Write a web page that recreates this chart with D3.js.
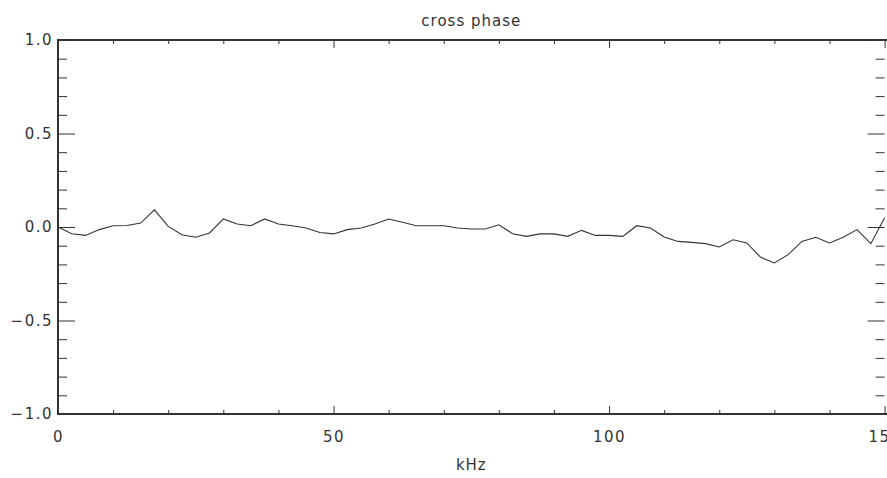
<!DOCTYPE html>
<html>
<head>
<meta charset="utf-8">
<script src="https://cdn.jsdelivr.net/npm/d3@7"></script>
<style>
  html, body { margin: 0; padding: 0; background: #fff; overflow: hidden; }
  svg { display: block; }
  text { font-family: "DejaVu Sans", sans-serif; fill: #333; }
</style>
</head>
<body>
<div id="chart"></div>
<script>
// cross phase vs frequency, sampled every 2.5 kHz
const freqKHz = d3.range(0, 150.01, 2.5);
const phase = [
  0.000, -0.036, -0.045, -0.014, 0.007, 0.008, 0.021, 0.092, 0.003, -0.041,
  -0.055, -0.032, 0.043, 0.016, 0.007, 0.043, 0.016, 0.007, -0.005, -0.029,
  -0.037, -0.014, -0.005, 0.016, 0.043, 0.025, 0.007, 0.007, 0.007, -0.005,
  -0.011, -0.011, 0.012, -0.036, -0.050, -0.037, -0.037, -0.050, -0.018, -0.045,
  -0.045, -0.050, 0.007, -0.005, -0.053, -0.077, -0.082, -0.089, -0.107, -0.068,
  -0.085, -0.162, -0.192, -0.148, -0.077, -0.055, -0.085, -0.055, -0.014, -0.089,
  0.050
];
const xMajorTicks = [0, 50, 100, 150];
const xMinorTicks = [10, 20, 30, 40, 60, 70, 80, 90, 110, 120, 130, 140];
const yMajorTicks = [-1.0, -0.5, 0.0, 0.5, 1.0];
const yMinorTicks = [-0.9, -0.8, -0.7, -0.6, -0.4, -0.3, -0.2, -0.1, 0.1, 0.2, 0.3, 0.4, 0.6, 0.7, 0.8, 0.9];

const width = 887, height = 478;
const margin = { top: 40, right: 2.4, bottom: 64, left: 58 };
const innerW = width - margin.left - margin.right;
const innerH = height - margin.top - margin.bottom;
const ink = '#333';

const svg = d3.select('#chart').append('svg')
  .attr('width', width)
  .attr('height', height);

const g = svg.append('g')
  .attr('transform', `translate(${margin.left},${margin.top})`);

const x = d3.scaleLinear().domain([0, 150]).range([0, innerW]);
const y = d3.scaleLinear().domain([-1, 1]).range([innerH, 0]);

function styleAxis(sel) {
  sel.select('.domain').remove();
  sel.selectAll('.tick line').attr('stroke', ink).attr('stroke-width', 1);
}

// frame: top, bottom, left (right edge runs off the picture)
g.append('path')
  .attr('d', `M${width - margin.left},0H0V${innerH}H${width - margin.left}`)
  .attr('fill', 'none')
  .attr('stroke', ink)
  .attr('stroke-width', 1.2)
  .attr('shape-rendering', 'crispEdges');

// bottom axis
g.append('g')
  .attr('transform', `translate(0,${innerH})`)
  .call(d3.axisTop(x).tickValues(xMajorTicks).tickSize(8).tickFormat(d3.format('d')))
  .call(styleAxis)
  .call(s => s.selectAll('.tick text')
    .attr('y', 23).attr('dy', '0.35em')
    .attr('font-size', 15).attr('letter-spacing', 1.5)
    .style('font-family', '"DejaVu Sans", sans-serif').attr('fill', ink));
g.append('g')
  .attr('transform', `translate(0,${innerH})`)
  .call(d3.axisTop(x).tickValues(xMinorTicks).tickSize(4).tickFormat(''))
  .call(styleAxis);

// top axis
g.append('g')
  .call(d3.axisBottom(x).tickValues(xMajorTicks).tickSize(8).tickFormat(''))
  .call(styleAxis);
g.append('g')
  .call(d3.axisBottom(x).tickValues(xMinorTicks).tickSize(4).tickFormat(''))
  .call(styleAxis);

// left axis
g.append('g')
  .call(d3.axisRight(y).tickValues(yMajorTicks).tickSize(17).tickFormat(d3.format('.1f')))
  .call(styleAxis)
  .call(s => s.selectAll('.tick text')
    .attr('x', -5).attr('text-anchor', 'end')
    .attr('font-size', 15).attr('letter-spacing', 1.5)
    .style('font-family', '"DejaVu Sans", sans-serif').attr('fill', ink)
    .text(d => d3.format('.1f')(d).replace('-', '\u2212')));
g.append('g')
  .call(d3.axisRight(y).tickValues(yMinorTicks).tickSize(9).tickFormat(''))
  .call(styleAxis);

// right axis ticks
g.append('g')
  .attr('transform', `translate(${innerW},0)`)
  .call(d3.axisLeft(y).tickValues(yMajorTicks).tickSize(17).tickFormat(''))
  .call(styleAxis);
g.append('g')
  .attr('transform', `translate(${innerW},0)`)
  .call(d3.axisLeft(y).tickValues(yMinorTicks).tickSize(9).tickFormat(''))
  .call(styleAxis);

// data line
const line = d3.line()
  .x((d, i) => x(freqKHz[i]))
  .y(d => y(d));

g.append('path')
  .datum(phase)
  .attr('fill', 'none')
  .attr('stroke', ink)
  .attr('stroke-width', 1.1)
  .attr('d', line);

// title and x label
svg.append('text')
  .attr('x', margin.left + innerW / 2)
  .attr('y', 21)
  .attr('dy', '0.35em')
  .attr('text-anchor', 'middle')
  .attr('font-size', 15)
  .attr('letter-spacing', 1)
  .text('cross phase');

svg.append('text')
  .attr('x', margin.left + innerW / 2)
  .attr('y', 465)
  .attr('dy', '0.35em')
  .attr('text-anchor', 'middle')
  .attr('font-size', 15)
  .attr('letter-spacing', 1)
  .text('kHz');
</script>
</body>
</html>
